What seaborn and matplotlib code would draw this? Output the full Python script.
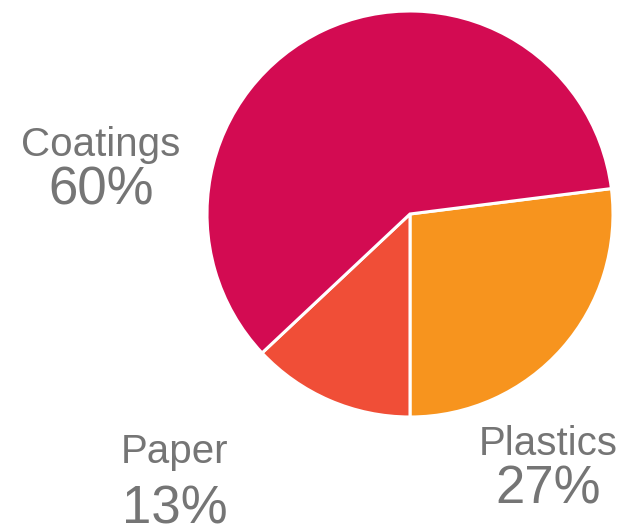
import matplotlib
matplotlib.use("Agg")
import matplotlib.pyplot as plt
import seaborn as sns

categories = ["Plastics", "Paper", "Coatings"]
values = [27, 13, 60]
colors = ["#F7941E", "#F04E37", "#D30B52"]

sns.set_theme(style="white")
plt.rcParams['font.family'] = ['Liberation Sans', 'DejaVu Sans']

W, H = 624, 528
fig = plt.figure(figsize=(W / 100, H / 100), dpi=100)
cx, cy, r = 410, 214, 203
ax = fig.add_axes([(cx - r) / W, (H - cy - r) / H, 2 * r / W, 2 * r / H])
ax.pie(values, colors=colors, startangle=7.2, counterclock=False, radius=1,
       wedgeprops=dict(edgecolor="white", linewidth=2.2))
ax.set_xlim(-1, 1)
ax.set_ylim(-1, 1)
ax.set_aspect("equal")
ax.axis("off")

gray = "#757575"
# label positions: (center x, name baseline y, pct baseline y) in pixels
label_pos = {
    "Coatings": (101, 156, 205),
    "Plastics": (548, 455, 503),
    "Paper": (175, 463, 523),
}
for cat, val in zip(categories, values):
    x, yn, yp = label_pos[cat]
    fig.text(x / W, 1 - yn / H, cat, ha="center", va="baseline",
             fontsize=29, color=gray)
    fig.text(x / W, 1 - yp / H, f"{val}%", ha="center", va="baseline",
             fontsize=38, color=gray)

fig.savefig("out.png", dpi=100)
